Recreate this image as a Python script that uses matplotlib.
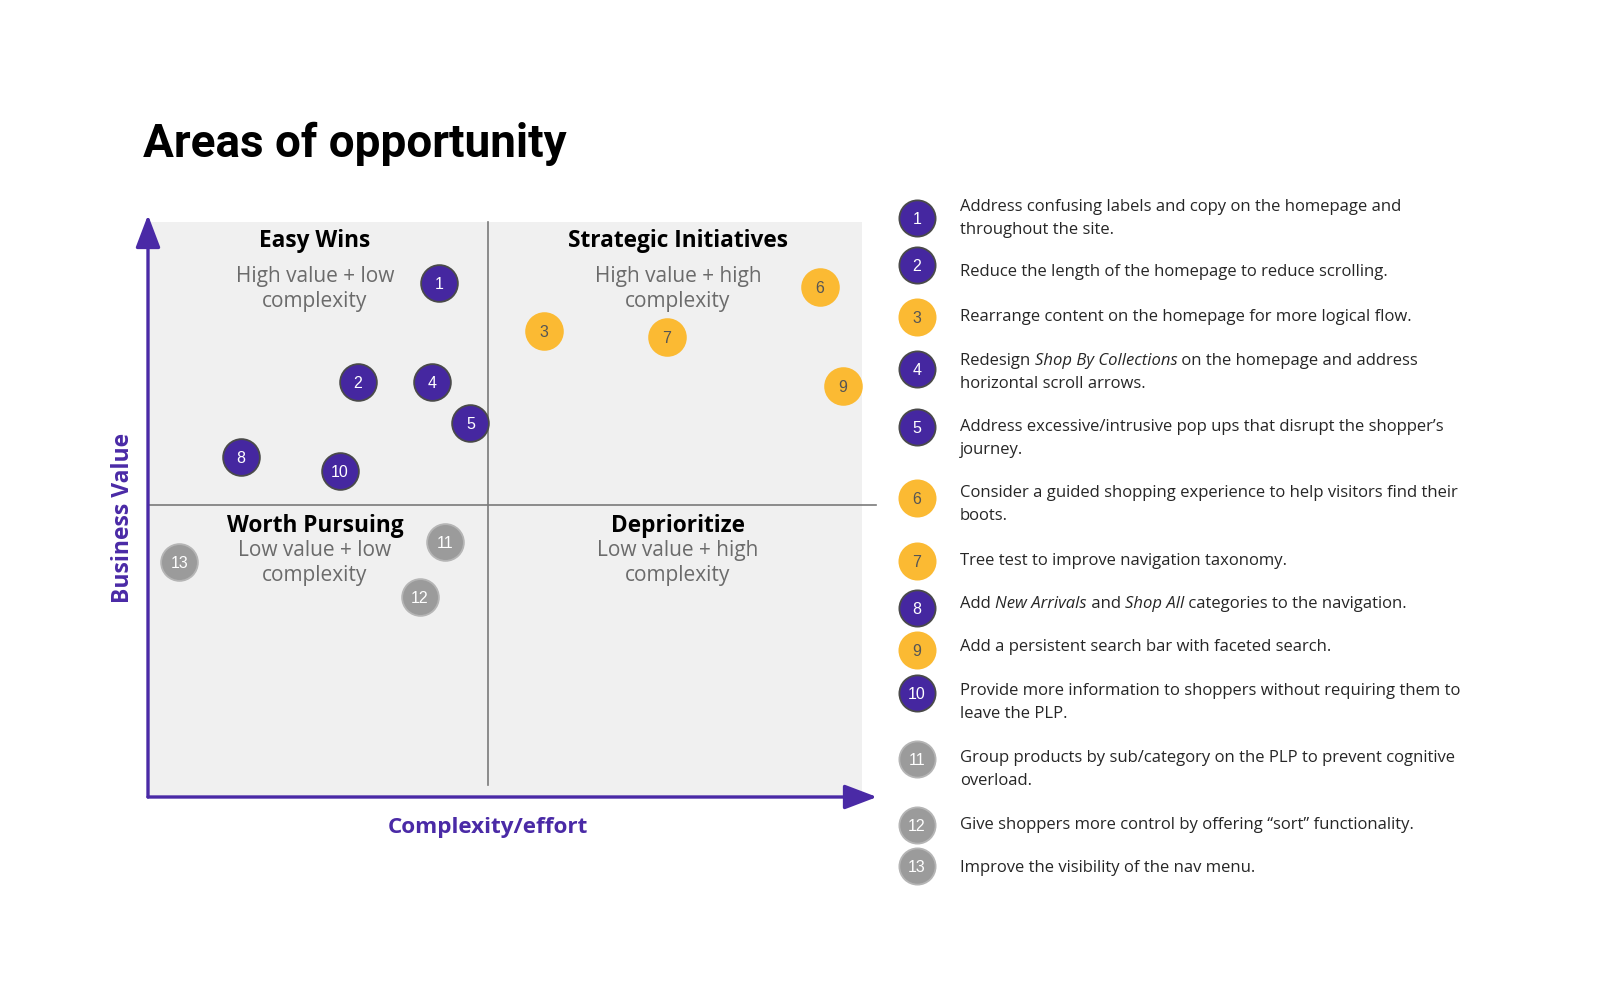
import matplotlib
matplotlib.use("Agg")
import matplotlib.pyplot as plt
from matplotlib.patches import Rectangle

# ---------------- data ----------------
ids = [1, 2, 3, 4, 5, 6, 7, 8, 9, 10, 11, 12, 13]
complexity = [4.28, 3.09, 5.82, 4.18, 4.74, 9.88, 7.63, 1.37, 10.22, 2.82, 4.37, 4.00, 0.46]
value = [8.80, 7.11, 7.98, 7.11, 6.40, 8.73, 7.88, 5.82, 7.04, 5.58, 4.37, 3.42, 4.02]
group = ["p", "p", "y", "p", "p", "y", "y", "p", "y", "p", "g", "g", "g"]

quadrant_titles = ["Easy Wins", "Strategic Initiatives", "Worth Pursuing", "Deprioritize"]
quadrant_subtitles = ["High value + low\ncomplexity", "High value + high\ncomplexity",
                      "Low value + low\ncomplexity", "Low value + high\ncomplexity"]

items = [
    "Address confusing labels and copy on the homepage and\nthroughout the site.",
    "Reduce the length of the homepage to reduce scrolling.",
    "Rearrange content on the homepage for more logical flow.",
    "Redesign *Shop By Collections* on the homepage and address\nhorizontal scroll arrows.",
    "Address excessive/intrusive pop ups that disrupt the shopper\u2019s\njourney.",
    "Consider a guided shopping experience to help visitors find their\nboots.",
    "Tree test to improve navigation taxonomy.",
    "Add *New Arrivals* and *Shop All* categories to the navigation.",
    "Add a persistent search bar with faceted search.",
    "Provide more information to shoppers without requiring them to\nleave the PLP.",
    "Group products by sub/category on the PLP to prevent cognitive\noverload.",
    "Give shoppers more control by offering \u201csort\u201d functionality.",
    "Improve the visibility of the nav menu.",
]

title = "Areas of opportunity"
xlabel = "Complexity/effort"
ylabel = "Business Value"

# ---------------- styles / layout ----------------
PURPLE = "#4527A0"
AXIS_PURPLE = "#4A2AA6"
YELLOW = "#FBBA33"
GRAY = "#9B9B9B"
fill = {"p": PURPLE, "y": YELLOW, "g": GRAY}
edge = {"p": "#4a4a4a", "y": YELLOW, "g": "#b5b5b5"}
numcol = {"p": "white", "y": "#555555", "g": "white"}

W, H = 1600, 1000
fig = plt.figure(figsize=(16, 10), dpi=100)
fig.patch.set_facecolor("white")

# chart axes
ox, oy = 148, 797
px_x, px_y = 68.0, 58.4
right_px, top_px = 877, 209
ax = fig.add_axes([ox / W, (H - oy) / H, (right_px - ox) / W, (oy - top_px) / H])
ax.set_zorder(1)
xmax = (right_px - ox) / px_x
ymax = (oy - top_px) / px_y
ax.set_xlim(0, xmax)
ax.set_ylim(0, ymax)
ax.axis("off")

# overlay axes in pixel coords (for title, legend, quadrant text)
lax = fig.add_axes([0, 0, 1, 1])
lax.set_zorder(2)
lax.set_xlim(0, W)
lax.set_ylim(H, 0)
lax.axis("off")

gray_right = (862 - ox) / px_x
gray_top = (oy - 222) / px_y
ax.add_patch(Rectangle((0, 0), gray_right, gray_top, facecolor="#F0F0F0", edgecolor="none", zorder=0))

# dividers
ax.plot([5, 5], [(oy - 785) / px_y, gray_top], color="#7a7a7a", lw=1.2, zorder=1)
ax.plot([0, (876 - ox) / px_x], [5, 5], color="#7a7a7a", lw=1.2, zorder=1)

# axes arrows
arrow_kw = dict(arrowstyle="-|>,head_length=1.0,head_width=0.38", color=AXIS_PURPLE, lw=2.4,
                shrinkA=0, shrinkB=0, mutation_scale=20)
ax.annotate("", xy=(xmax, 0), xytext=(0, 0), arrowprops=arrow_kw, annotation_clip=False, zorder=3)
ax.annotate("", xy=(0, (oy - 215) / px_y), xytext=(0, 0), arrowprops=arrow_kw, annotation_clip=False, zorder=3)

# points
for i, x, y, g in zip(ids, complexity, value, group):
    ax.scatter([x], [y], s=700, color=fill[g], edgecolors=edge[g], linewidths=1.3, zorder=4, clip_on=False)
    ax.text(x, y, str(i), ha="center", va="center_baseline", color=numcol[g], fontsize=11.5,
            family="Liberation Sans", zorder=5)

# quadrant text (pixel layout)
q_cx = [315, 678, 315, 678]
q_title_base = [247, 247, 532, 532]
q_sub_base = [282, 282, 556, 556]
for t, s, cx, tb, sb in zip(quadrant_titles, quadrant_subtitles, q_cx, q_title_base, q_sub_base):
    lax.text(cx, tb, t, ha="center", va="baseline", fontsize=16.3, fontweight="bold",
             family="Open Sans", color="black")
    for k, line in enumerate(s.split("\n")):
        lax.text(cx, sb + 25 * k, line, ha="center", va="baseline", fontsize=15,
                 family="Open Sans", color="#6b6b6b")

# axis labels
lax.text(488, 833, xlabel, ha="center", va="baseline", fontsize=16.2, fontweight="bold",
         family="Open Sans", color=AXIS_PURPLE)
lax.text(123, 518, ylabel, ha="center", va="center", rotation=90, fontsize=16.5,
         fontweight="bold", family="Open Sans", color=AXIS_PURPLE)

# title
lax.text(143, 157, title, ha="left", va="baseline", fontsize=33, fontweight="bold",
         family="Roboto", color="black")

# legend
leg_cy = [218, 265, 317, 369, 427, 498, 561, 608, 650, 693, 759, 825, 866]
leg_ty = [207, 272, 317, 361, 427, 493, 561, 604, 647, 691, 758, 825, 868]
leg_cx, leg_tx = 917, 960
line_gap = 22.7


def rich_line(x, y, line):
    parts = line.split("*")
    prev = None
    for k, part in enumerate(parts):
        if part == "":
            continue
        style = "italic" if k % 2 == 1 else "normal"
        if prev is None:
            prev = lax.text(x, y, part, ha="left", va="center", fontsize=12,
                            family="Open Sans", style=style, color="#262626")
        else:
            prev = lax.annotate(part, xy=(1, 0.5), xycoords=prev, ha="left", va="center",
                                fontsize=12, family="Open Sans", style=style, color="#262626")


for i, g, cy, ty, txt in zip(ids, group, leg_cy, leg_ty, items):
    lax.scatter([leg_cx], [cy], s=680, color=fill[g], edgecolors=edge[g], linewidths=1.3, zorder=4)
    lax.text(leg_cx, cy, str(i), ha="center", va="center_baseline", color=numcol[g], fontsize=11.5,
             family="Liberation Sans", zorder=5)
    for k, line in enumerate(txt.split("\n")):
        rich_line(leg_tx, ty + k * line_gap, line)

fig.savefig("out.png", dpi=100, facecolor="white")
